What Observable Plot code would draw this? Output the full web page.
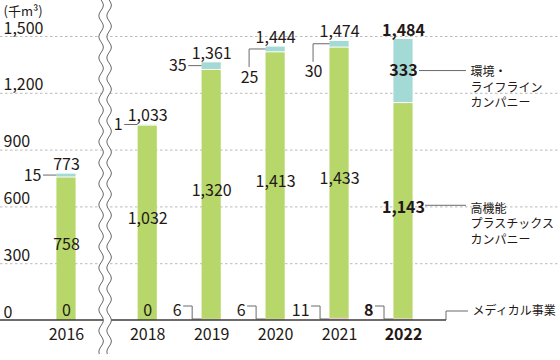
<!DOCTYPE html>
<html><head><meta charset="utf-8">
<script src="https://cdn.jsdelivr.net/npm/d3@7"></script>
<script src="https://cdn.jsdelivr.net/npm/@observablehq/plot@0.6"></script>
<style>
body{margin:0;background:#fff;}
#chart svg{display:block;}
</style>
</head><body><div id="chart"></div>
<script>
// ---- data ----
const years = ["2016","2018","2019","2020","2021","2022"];
const medical = [0, 0, 6, 6, 11, 8];
const plastics = [758, 1032, 1320, 1413, 1433, 1143];
const envLife = [15, 1, 35, 25, 30, 333];
const totals = [773, 1033, 1361, 1444, 1474, 1484];
const yTicks = [0, 300, 600, 900, 1200, 1500];
const seriesNames = ["メディカル事業", "高機能\nプラスチックス\nカンパニー", "環境・\nライフライン\nカンパニー"];
const unitLabel = "(千m³)";

// ---- label placement styles ----
const envStyle = ["left", "left", "left", "below", "below", "inside"];
const medStyle = ["inside", "inside", "left", "left", "left", "left"];

const C = {med: "#ecc9cf", pl: "#b7d76b", env: "#a4dad6"};
const INK = "#231815";
const LINE = "#6a6a6a";
const FONT = `"Noto Sans CJK JP", "Noto Sans", sans-serif`;

const BREAK = 0.27;            // extra gap for the axis break after 2016
const HW = 0.15;               // bar half-width in slot units
const slot = years.map((y, i) => i === 0 ? 0 : i + BREAK);
const rows = years.map((yr, i) => ({yr, i, x: slot[i], med: medical[i], pl: plastics[i], env: envLife[i], tot: totals[i]}));
const last = rows.length - 1;
const isLast = d => d.i === last;
const notLast = d => d.i !== last;
const fmt = d3.format(",");
const plMid = d => d.med + d.pl / 2;
const envMid = d => d.med + d.pl + d.env / 2;
const barTop = d => d.med + d.pl + d.env;

const plot = Plot.plot({
  width: 560, height: 360,
  marginTop: 36, marginBottom: 40, marginLeft: 0, marginRight: 0,
  x: {type: "linear", domain: [0, slot[last]], range: [66, 403], axis: null},
  y: {domain: [0, 1500], axis: null},
  style: {fontFamily: FONT, color: INK, background: "#fff", overflow: "visible"},
  marks: [
    Plot.ruleY(yTicks.filter(t => t > 0), {stroke: "#a8a8a8", strokeDasharray: "2.5,2.5", strokeWidth: 0.8}),
    Plot.text(yTicks, {y: d => d, frameAnchor: "left", dx: 3, dy: -3, lineAnchor: "bottom", textAnchor: "start", text: d => fmt(d), fontSize: 16}),
    Plot.text([unitLabel], {frameAnchor: "top-left", dx: 3, dy: -25, lineAnchor: "middle", textAnchor: "start", fontSize: 13}),
    // stacked bars
    Plot.rect(rows, {x1: d => d.x - HW, x2: d => d.x + HW, y1: 0, y2: d => d.med, fill: C.med}),
    Plot.rect(rows, {x1: d => d.x - HW, x2: d => d.x + HW, y1: d => d.med, y2: d => d.med + d.pl, fill: C.pl, insetTop: 1}),
    Plot.rect(rows, {x1: d => d.x - HW, x2: d => d.x + HW, y1: d => d.med + d.pl, y2: barTop, fill: C.env}),
    // totals
    Plot.text(rows.filter(notLast), {x: "x", y: barTop, text: d => fmt(d.tot), dy: -4, lineAnchor: "bottom", fontSize: 16}),
    Plot.text(rows.filter(isLast), {x: "x", y: barTop, text: d => fmt(d.tot), dy: -4, lineAnchor: "bottom", fontSize: 16, fontWeight: "bold"}),
    // plastics values
    Plot.text(rows.filter(notLast), {x: "x", y: plMid, text: d => fmt(d.pl), dy: -4, fontSize: 16}),
    Plot.text(rows.filter(isLast), {x: "x", y: plMid, text: d => fmt(d.pl), dy: -3, fontSize: 16, fontWeight: "bold"}),
    // env values
    Plot.text(rows.filter(d => envStyle[d.i] === "left"), {x: "x", y: envMid, text: d => fmt(d.env), dx: -25, textAnchor: "end", fontSize: 16}),
    Plot.text(rows.filter(d => envStyle[d.i] === "below"), {x: "x", y: envMid, text: d => fmt(d.env), dx: -26, dy: 28, fontSize: 16}),
    Plot.text(rows.filter(d => envStyle[d.i] === "inside"), {x: "x", y: envMid, text: d => fmt(d.env), fontSize: 16, fontWeight: "bold"}),
    // medical values
    Plot.text(rows.filter(d => medStyle[d.i] === "inside"), {x: "x", y: 0, text: d => fmt(d.med), dy: -5, lineAnchor: "bottom", fontSize: 16}),
    Plot.text(rows.filter(d => medStyle[d.i] === "left" && notLast(d)), {x: "x", y: 0, text: d => fmt(d.med), dx: -30, dy: -5, textAnchor: "end", lineAnchor: "bottom", fontSize: 16}),
    Plot.text(rows.filter(d => medStyle[d.i] === "left" && isLast(d)), {x: "x", y: 0, text: d => fmt(d.med), dx: -30, dy: -5, textAnchor: "end", lineAnchor: "bottom", fontSize: 16, fontWeight: "bold"}),
    // x labels
    Plot.text(rows.filter(notLast), {x: "x", y: 0, text: "yr", dy: 19, lineAnchor: "bottom", fontSize: 16}),
    Plot.text(rows.filter(isLast), {x: "x", y: 0, text: "yr", dy: 19, lineAnchor: "bottom", fontSize: 16, fontWeight: "bold"}),
    // series labels
    Plot.text(rows.filter(isLast), {x: "x", y: envMid, text: () => seriesNames[2], dx: 67, dy: -6, textAnchor: "start", lineAnchor: "top", fontSize: 12, lineHeight: 1.3}),
    Plot.text(rows.filter(isLast), {x: "x", y: plMid, text: () => seriesNames[1], dx: 67, dy: -9, textAnchor: "start", lineAnchor: "top", fontSize: 12, lineHeight: 1.3}),
    Plot.text(rows.filter(isLast), {x: "x", y: 0, text: () => seriesNames[0], dx: 69, dy: -9, textAnchor: "start", lineAnchor: "middle", fontSize: 12})
  ]
});
document.getElementById("chart").appendChild(plot);

// ---- connectors, baseline, axis break (positioned through Plot's scales) ----
const X = plot.scale("x"), Y = plot.scale("y");
const px = v => X.apply(v), py = v => Y.apply(v);
const svg = d3.select(plot);
const bhw = px(HW) - px(0);
const g = svg.append("g").attr("fill", "none").attr("stroke", LINE).attr("stroke-width", 1);
rows.forEach(d => {
  const cx = px(d.x), bl = cx - bhw;
  if (envStyle[d.i] === "left") {
    const y = py(envMid(d));
    g.append("path").attr("d", `M${cx - 23},${y}H${bl}`);
  } else if (envStyle[d.i] === "below") {
    const y = py(envMid(d)), lx = cx - 26;
    g.append("path").attr("d", `M${lx},${y + 18}V${y}H${bl}`);
  } else if (envStyle[d.i] === "inside") {
    const y = py(envMid(d));
    g.append("path").attr("d", `M${cx + 16},${y}H${cx + 63}`);
    const y2 = py(plMid(d)) - 5;
    g.append("path").attr("d", `M${cx + 22},${y2}H${cx + 63}`);
  }
  if (medStyle[d.i] === "left") {
    const y0 = py(0);
    g.append("path").attr("d", `M${cx - 28},${y0 - 14}H${cx - 19}V${y0 - 1}H${bl}`);
  }
});
// baseline
const lastX = px(slot[last]);
svg.append("path").attr("d", `M0,${py(0)}H${lastX + 43}`).attr("stroke", "#3e3a39").attr("stroke-width", 1.5).attr("fill", "none");
g.append("path").attr("d", `M${lastX + 43},${py(0)}V${py(0) - 9}H${lastX + 65}`);

// axis break
const bc = (px(slot[0]) + px(slot[1])) / 2 - 1.5;
const A = 2.2, P = 21, yEnd = 354;
const wave = off => d3.range(0, yEnd + 1, 1).map(y => [bc + off + A * Math.sin(2 * Math.PI * y / P), y]);
const left = wave(-4), right = wave(4);
svg.append("path").attr("d", d3.line()(left.concat(right.slice().reverse())) + "Z").attr("fill", "#fff").attr("stroke", "none");
[left, right].forEach(w => svg.append("path").attr("d", d3.line()(w)).attr("fill", "none").attr("stroke", "#595757").attr("stroke-width", 0.9));
</script>
</body></html>
